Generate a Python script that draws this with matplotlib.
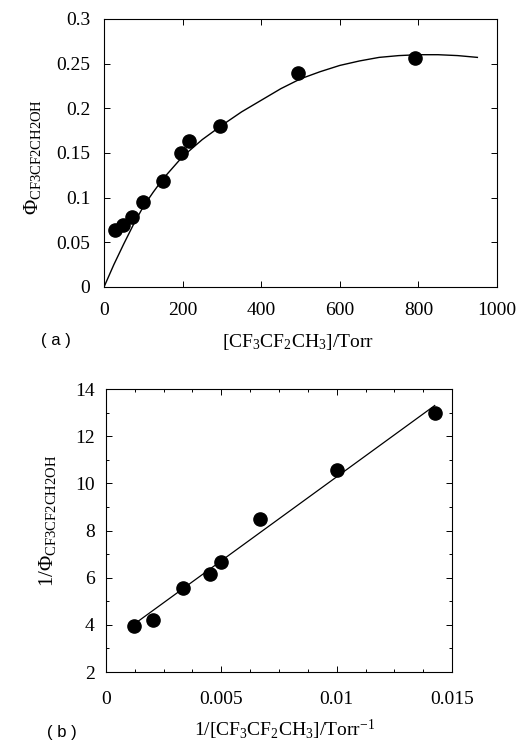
import numpy as np
import matplotlib
matplotlib.use('Agg')
import matplotlib.pyplot as plt
from matplotlib.ticker import MultipleLocator

plt.rcParams['font.family'] = ['Liberation Serif', 'DejaVu Serif']
plt.rcParams['mathtext.fontset'] = 'custom'
plt.rcParams['mathtext.rm'] = 'Liberation Serif'
plt.rcParams['mathtext.it'] = 'Liberation Serif:italic'

# (a) quantum yield vs pressure
p_torr = [28, 48, 71, 99, 149, 197, 216, 295, 494, 792]
phi = [0.064, 0.069, 0.078, 0.095, 0.119, 0.150, 0.163, 0.180, 0.240, 0.256]
fit_x = [0, 25, 50, 75, 100, 125, 150, 200, 250, 300, 350, 400, 450, 500,
         550, 600, 650, 700, 750, 800, 850, 900, 950]
fit_y = [0, 0.025, 0.048, 0.070, 0.090, 0.106, 0.121, 0.146, 0.165, 0.181,
         0.196, 0.209, 0.222, 0.233, 0.241, 0.248, 0.253, 0.257, 0.259,
         0.260, 0.260, 0.259, 0.257]

# (b) reciprocal plot
inv_p = [0.00123, 0.00202, 0.00332, 0.00453, 0.00498, 0.00666, 0.01002, 0.01428]
inv_phi = [3.96, 4.22, 5.56, 6.17, 6.65, 8.48, 10.57, 12.97]
line_x = [0.00125, 0.01425]
line_y = [4.05, 13.3]

fig = plt.figure(figsize=(5.18, 7.41), dpi=100)

fs = 14
ax1 = fig.add_axes([0.2008, 0.6127, 0.7587, 0.3617])
ax1.plot(fit_x, fit_y, 'k-', lw=1.0)
ax1.plot(p_torr, phi, 'o', color='black', ms=9.5)
ax1.set_xlim(0, 1000)
ax1.set_ylim(0, 0.3)
ax1.xaxis.set_major_locator(MultipleLocator(200))
ax1.set_yticks([0, 0.05, 0.1, 0.15, 0.2, 0.25, 0.3])
ax1.set_yticklabels(['0', '0.05', '0.1', '0.15', '0.2', '0.25', '0.3'])
ax1.tick_params(direction='in', top=True, right=True, length=4, width=0.7, labelsize=fs)
ax1.tick_params(axis='x', pad=11)
ax1.tick_params(axis='y', pad=10)
ax1.set_xlabel(r'[CF$_3$CF$_2$CH$_3$]/Torr', fontsize=fs)
ax1.xaxis.set_label_coords(0.494, -0.168)
ax1.set_ylabel(r'$\Phi_{\mathrm{CF3CF2CH2OH}}$', fontsize=fs + 1)
ax1.yaxis.set_label_coords(-0.155, 0.485)
for s in ax1.spines.values():
    s.set_linewidth(0.8)
fig.text(0.108, 0.541, '( a )', fontsize=12, family=['Liberation Sans'],
         ha='center', va='center')

ax2 = fig.add_axes([0.2046, 0.0931, 0.668, 0.3819])
ax2.plot(line_x, line_y, 'k-', lw=0.9)
ax2.plot(inv_p, inv_phi, 'o', color='black', ms=9.5)
ax2.set_xlim(0, 0.015)
ax2.set_ylim(2, 14)
ax2.set_xticks([0, 0.005, 0.01, 0.015])
ax2.set_xticklabels(['0', '0.005', '0.01', '0.015'])
ax2.xaxis.set_minor_locator(MultipleLocator(0.00125))
ax2.yaxis.set_major_locator(MultipleLocator(2))
ax2.yaxis.set_minor_locator(MultipleLocator(1))
ax2.tick_params(which='both', direction='in', top=True, right=True, width=0.7, labelsize=fs)
ax2.tick_params(which='major', length=4)
ax2.tick_params(which='minor', length=2.5)
ax2.tick_params(axis='x', pad=14)
ax2.tick_params(axis='y', pad=8)
ax2.set_xlabel(r'1/[CF$_3$CF$_2$CH$_3$]/Torr$^{-1}$', fontsize=fs)
ax2.xaxis.set_label_coords(0.517, -0.163)
ax2.set_ylabel(r'1/$\Phi_{\mathrm{CF3CF2CH2OH}}$', fontsize=fs + 1)
ax2.yaxis.set_label_coords(-0.139, 0.534)
for s in ax2.spines.values():
    s.set_linewidth(0.8)
fig.text(0.12, 0.012, '( b )', fontsize=12, family=['Liberation Sans'],
         ha='center', va='center')

plt.savefig('out.png', dpi=100)
